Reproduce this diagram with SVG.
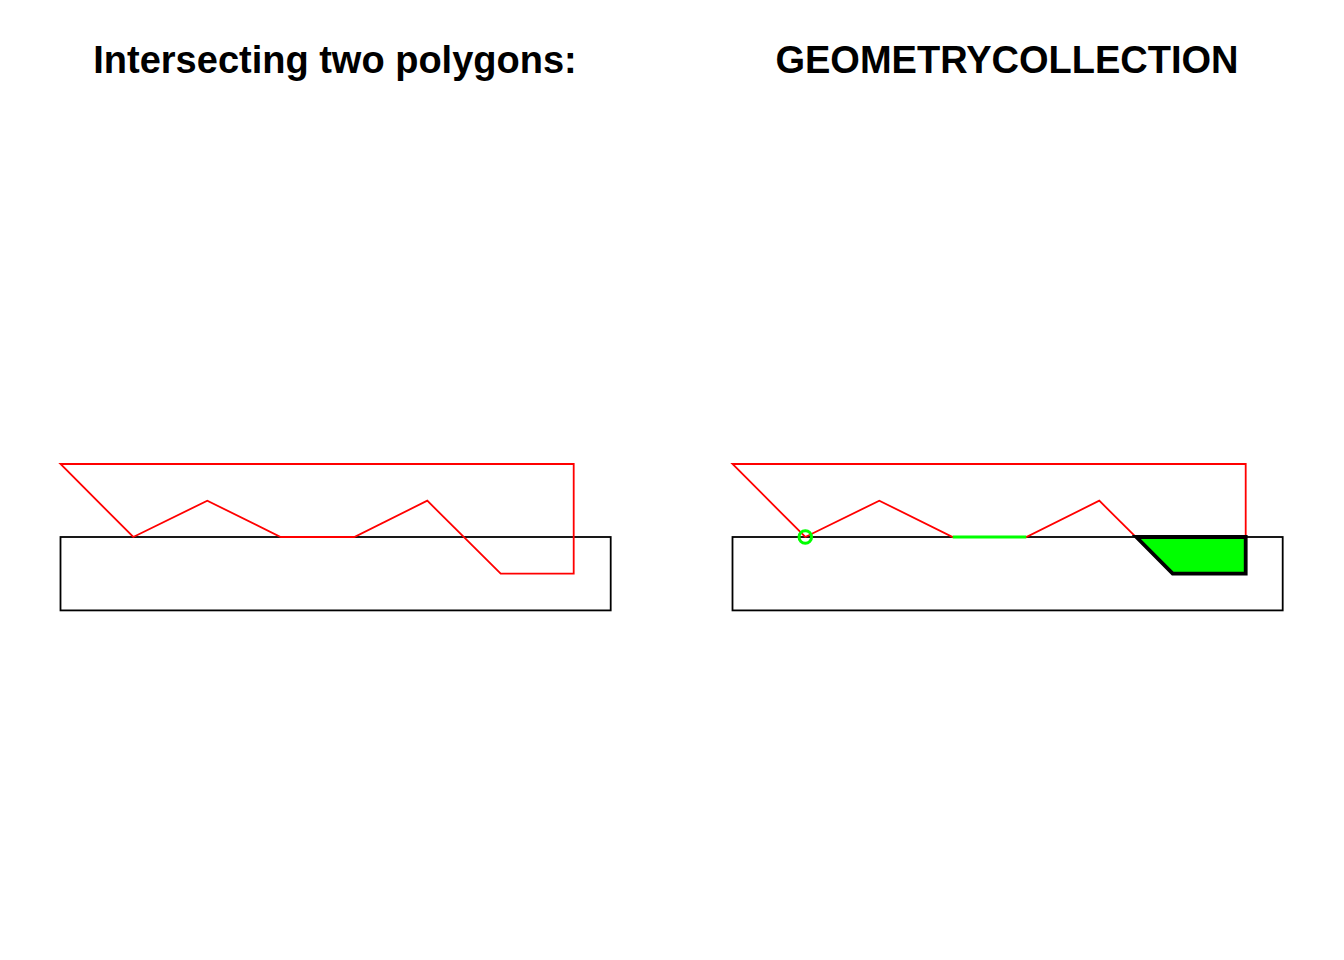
<svg xmlns="http://www.w3.org/2000/svg" width="1344" height="960" viewBox="0 0 1344 960">
<style>
.title{font-family:"Liberation Sans",Arial,sans-serif;font-weight:bold;font-size:38px;fill:#000;text-anchor:middle}
.box{fill:none;stroke:#000;stroke-width:1.8}
.red{fill:none;stroke:#ff0000;stroke-width:1.8;stroke-linejoin:miter}
</style>
<rect width="1344" height="960" fill="#fff"/>
<g id="left-panel">
<text class="title" x="335" y="73">Intersecting two polygons:</text>
<rect id="left-rect" class="box" x="60.5" y="537" width="550.2" height="73.4"/>
<polygon id="left-red" class="red" points="60.5,464 573.7,464 573.7,573.7 500.7,573.7 427.3,500.7 354.3,537 280.7,537 207.3,500.7 133.3,537"/>
</g>
<g id="right-panel">
<text class="title" x="1007" y="73">GEOMETRYCOLLECTION</text>
<rect id="right-rect" class="box" x="732.5" y="537" width="550.2" height="73.4"/>
<polygon id="right-red" class="red" points="732.5,464 1245.7,464 1245.7,573.7 1172.7,573.7 1099.3,500.7 1026.3,537 952.7,537 879.3,500.7 805.3,537"/>
<polygon id="green-poly" points="1136.3,537 1245.7,537 1245.7,573.7 1172.7,573.7" fill="#00ff00" stroke="#000" stroke-width="3.8" stroke-linejoin="miter"/>
<line id="green-line" x1="952.7" y1="537" x2="1026.3" y2="537" stroke="#00ff00" stroke-width="3.2"/>
<circle id="green-point" cx="805.3" cy="537" r="6.3" fill="none" stroke="#00ff00" stroke-width="3"/>
</g>
</svg>
